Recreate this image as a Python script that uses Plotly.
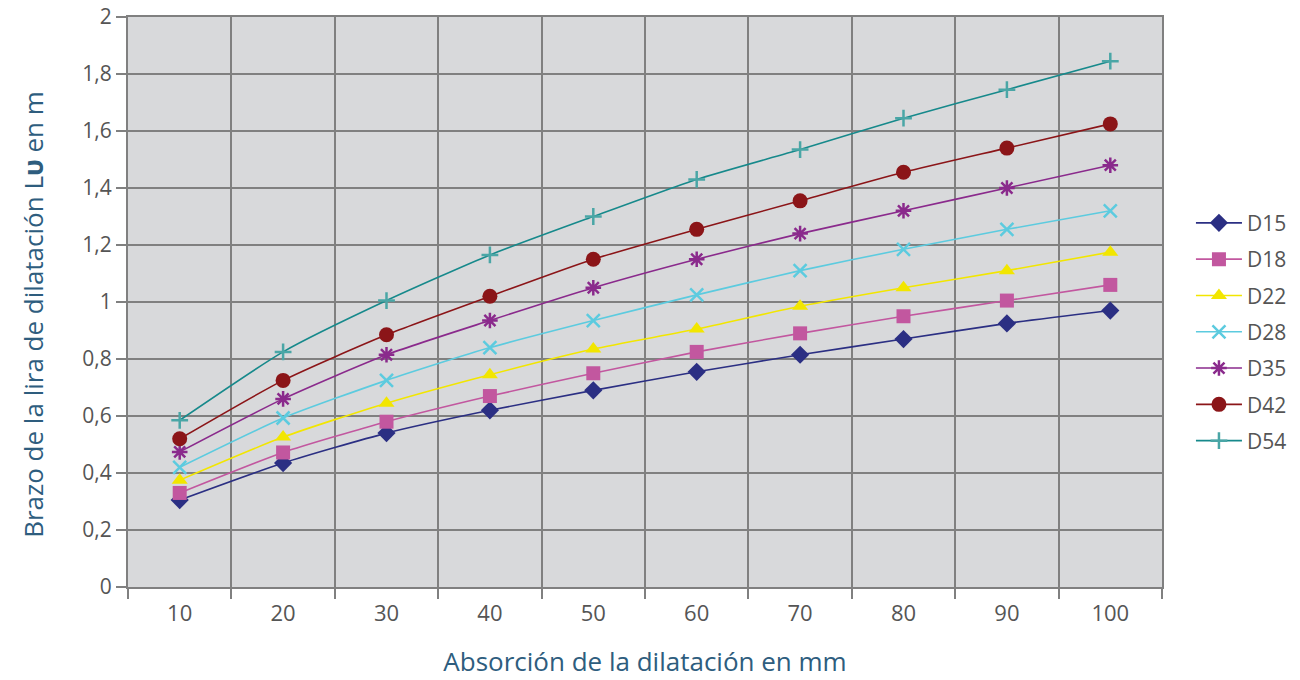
import plotly.graph_objects as go

x_labels = ["10", "20", "30", "40", "50", "60", "70", "80", "90", "100"]
series_names = ["D15", "D18", "D22", "D28", "D35", "D42", "D54"]
d15 = [0.305, 0.435, 0.54, 0.62, 0.69, 0.755, 0.815, 0.87, 0.925, 0.97]
d18 = [0.33, 0.472, 0.58, 0.67, 0.75, 0.825, 0.89, 0.95, 1.005, 1.06]
d22 = [0.375, 0.526, 0.645, 0.745, 0.835, 0.905, 0.985, 1.05, 1.11, 1.175]
d28 = [0.42, 0.593, 0.725, 0.84, 0.935, 1.025, 1.11, 1.185, 1.255, 1.32]
d35 = [0.474, 0.66, 0.815, 0.935, 1.05, 1.15, 1.24, 1.32, 1.40, 1.48]
d42 = [0.52, 0.725, 0.885, 1.02, 1.15, 1.255, 1.355, 1.455, 1.54, 1.625]
d54 = [0.585, 0.825, 1.005, 1.165, 1.30, 1.43, 1.535, 1.645, 1.745, 1.845]
y_ticks = [0, 0.2, 0.4, 0.6, 0.8, 1, 1.2, 1.4, 1.6, 1.8, 2]
y_tick_text = ["0", "0,2", "0,4", "0,6", "0,8", "1", "1,2", "1,4", "1,6", "1,8", "2"]
x_title = "Absorción de la dilatación en mm"
y_title = "Brazo de la lira de dilatación L<b>υ</b> en m"

values = [d15, d18, d22, d28, d35, d42, d54]
colors = ["#2b2f83", "#c2579f", "#f2e600", "#5ccbdf", "#8a2a8c", "#8b1518", "#16898b"]
marker_colors = ["#2b2f83", "#c2579f", "#f2e600", "#5ccbdf", "#8a2a8c", "#8b1518", "#4aa6a6"]
symbols = ["diamond", "square", "triangle-up", "x-thin", "asterisk", "circle", "cross-thin"]
sizes = [14, 14, 14, 13, 13, 15, 12]

fig = go.Figure()
for i, name in enumerate(series_names):
    thin = symbols[i] in ("x-thin", "asterisk", "cross-thin")
    fig.add_trace(go.Scatter(
        x=x_labels, y=values[i], name=name, mode="lines+markers",
        legendgroup=name,
        line=dict(color=colors[i], width=1.6, shape="spline", smoothing=0.6),
        marker=dict(symbol=symbols[i], size=sizes[i], color=marker_colors[i],
                    line=dict(color=marker_colors[i], width=2.5 if thin else 0)),
    ))

fig.update_layout(
    width=1300, height=680,
    margin=dict(l=120, r=146, t=9, b=101, autoexpand=False),
    paper_bgcolor="white", plot_bgcolor="#d8d9db",
    font=dict(family="Open Sans, sans-serif", size=20, color="#555555"),
    legend=dict(x=1.028, y=0.447, xanchor="left", yanchor="middle",
                font=dict(size=21, color="#555555"), tracegroupgap=6,
                itemwidth=46, bgcolor="rgba(0,0,0,0)"),
    showlegend=True,
    annotations=[dict(text=y_title, xref="paper", yref="paper", x=-0.092, y=0.479,
                      xanchor="center", yanchor="middle", textangle=-90, showarrow=False,
                      font=dict(size=26, color="#2e5d7e"))],
)
fig.update_xaxes(
    type="category", range=[-0.5, 9.5], tickson="boundaries", ticks="outside", ticklen=10,
    tickcolor="#808080", tickwidth=2, showgrid=True, gridcolor="#808080", gridwidth=1.5,
    showline=True, linecolor="#808080", linewidth=2, mirror=True, automargin=False,
    ticklabelstandoff=6,
    tickfont=dict(size=22, color="#555555"),
    title=dict(text=x_title, font=dict(size=26, color="#2e5d7e"), standoff=26),
)
fig.update_yaxes(
    range=[0, 2], tickvals=y_ticks, ticktext=y_tick_text, ticks="outside", ticklen=10,
    tickcolor="#808080", tickwidth=2, showgrid=True, gridcolor="#808080", gridwidth=1.5,
    showline=True, linecolor="#808080", linewidth=2, mirror=True, zeroline=False, automargin=False,
    ticklabeloverflow="allow",
    tickfont=dict(size=21, color="#555555"),
)

fig.write_html("out.html")
